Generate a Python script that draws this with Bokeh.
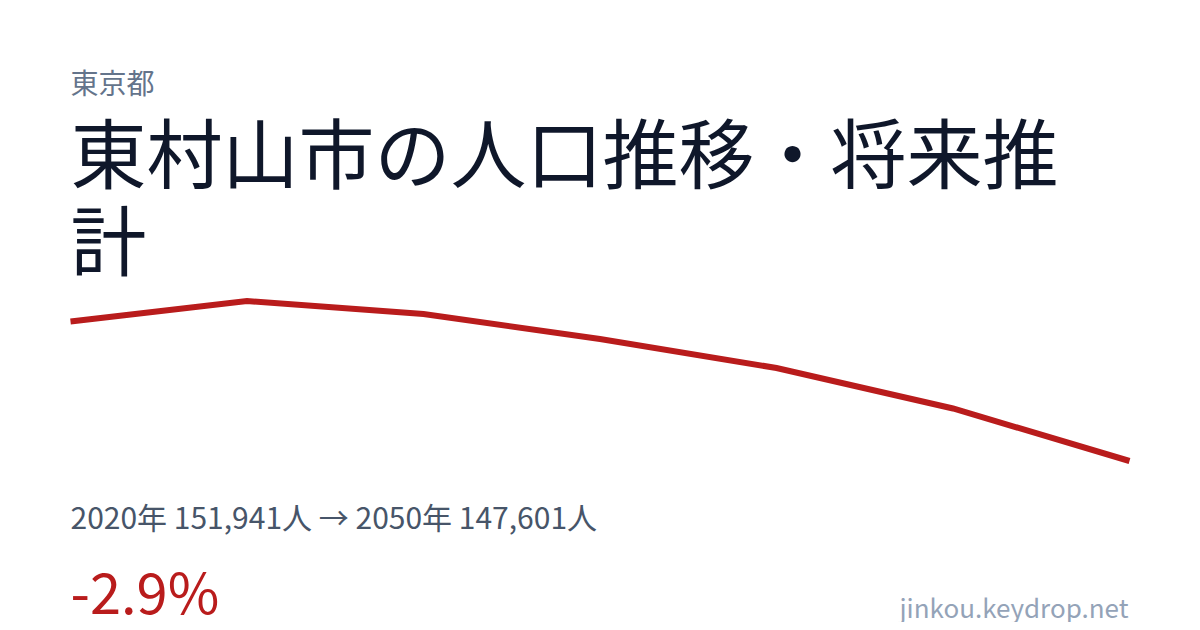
from bokeh.plotting import figure
from bokeh.models import Range1d, Label
from bokeh.embed import file_html
from bokeh.resources import INLINE

# ---- data ----
years = [2020, 2025, 2030, 2035, 2040, 2045, 2050]
population = [151941, 152580, 152175, 151395, 150495, 149235, 147601]
prefecture = "東京都"
title_line1 = "東村山市の人口推移・将来推"
title_line2 = "計"
summary = "2020年 151,941人 → 2050年 147,601人"
change_text = "-2.9%"
site = "jinkou.keydrop.net"

# ---- layout ----
W, H = 1192, 622
FONT = "Noto Sans CJK JP"
# chart band (figure pixel coords, from top)
cx0, cx1 = 70, 1129
cy_top, cy_bot = 300.5, 460.5

xs_px = (cx1 - cx0) / (years[-1] - years[0])
x_start = years[0] - cx0 / xs_px
x_end = x_start + W / xs_px

vmax, vmin = max(population), min(population)
ys_px = (vmax - vmin) / (cy_bot - cy_top)
y_start = vmin - (H - cy_bot) * ys_px
y_end = y_start + H * ys_px

p = figure(width=W, height=H, output_backend="svg", toolbar_location=None,
           x_range=Range1d(x_start, x_end), y_range=Range1d(y_start, y_end),
           min_border=0, min_border_left=0, min_border_right=0,
           min_border_top=0, min_border_bottom=0)
p.xaxis.visible = False
p.yaxis.visible = False
p.grid.visible = False
p.outline_line_color = None
p.background_fill_color = "#ffffff"
p.border_fill_color = "#ffffff"

p.line(years, population, line_color="#b91c1c", line_width=6,
       line_join="miter", line_cap="butt")

def lab(text, x, ytop, size, color, align="left"):
    p.add_layout(Label(x=x, y=H - ytop, x_units="screen", y_units="screen",
                       text=text, text_font=FONT, text_font_size=f"{size}px",
                       text_color=color, text_baseline="middle",
                       text_align=align))

lab(prefecture, 70, 81, 28, "#64748b")
lab(title_line1, 70, 149, 76, "#0f172a")
lab(title_line2, 70, 236, 76, "#0f172a")
lab(summary, 70, 515, 30, "#475569")
lab(change_text, 70, 589, 56, "#b91c1c")
lab(site, 1128, 606, 26, "#94a3b8", align="right")

open("out.html", "w").write(file_html(p, INLINE))
